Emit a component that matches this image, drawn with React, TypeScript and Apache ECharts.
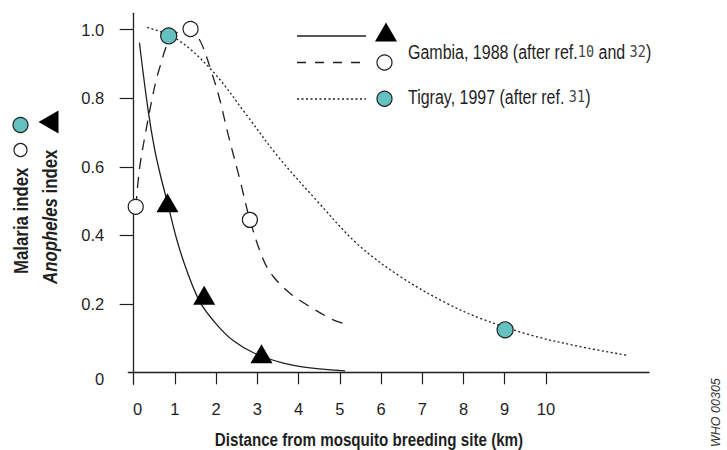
import React, { useEffect, useRef } from "react";
import * as echarts from "echarts";

// ---- Data ----
const xLabelValues = [0, 1, 2, 3, 4, 5, 6, 7, 8, 9, 10];
const xTickValues = [1, 2, 3, 4, 5, 6, 7, 8, 9, 10];
const yLabelValues = [0, 0.2, 0.4, 0.6, 0.8, 1.0];
const yTickValues = [0.2, 0.4, 0.6, 0.8, 1.0];
const yLabelTexts = ["0", "0.2", "0.4", "0.6", "0.8", "1.0"];

// Observed points
const anophelesPoints = [
  [0.82, 0.495],
  [1.71, 0.225],
  [3.1, 0.054],
];
const gambiaMalariaPoints = [
  [0.05, 0.483],
  [1.38, 1.002],
  [2.82, 0.445],
];
const tigrayMalariaPoints = [
  [0.85, 0.982],
  [9.01, 0.124],
];

// Fitted curves (traced)
const anophelesCurve = [
  [0.14, 0.962], [0.345, 0.77], [0.51, 0.65], [0.67, 0.565], [0.81, 0.5],
  [1.04, 0.39], [1.28, 0.3], [1.61, 0.205], [2.01, 0.14], [2.42, 0.092],
  [2.94, 0.055], [3.63, 0.027], [4.28, 0.013], [5.13, 0.004],
];
const gambiaCurve = [
  [0.053, 0.483], [0.143, 0.595], [0.3, 0.707], [0.425, 0.785], [0.546, 0.853],
  [0.667, 0.903], [0.81, 0.955], [1.07, 0.994], [1.38, 1.002], [1.55, 0.98],
  [1.68, 0.95], [1.88, 0.88], [2.08, 0.8], [2.3, 0.69], [2.58, 0.561],
  [2.82, 0.445], [3.14, 0.33], [3.39, 0.279], [3.79, 0.231], [4.28, 0.191],
  [4.84, 0.153], [5.08, 0.143],
];
const tigrayCurve = [
  [0.33, 1.007], [1.08, 0.97], [1.93, 0.877], [2.74, 0.751], [3.5, 0.63],
  [4.45, 0.5], [5.45, 0.372], [6.5, 0.277], [7.6, 0.201], [8.4, 0.158],
  [9.62, 0.109], [10.83, 0.075], [11.96, 0.05],
];

const xAxisTitle = "Distance from mosquito breeding site (km)";
const yTitleLine1 = "Malaria index";
const yTitleLine2Italic = "Anopheles";
const yTitleLine2Rest = " index";
const legendGambiaParts = ["Gambia, 1988 (after ref.", "10", " and ", "32", ")"];
const legendTigrayParts = ["Tigray, 1997 (after ref. ", "31", ")"];
const figureCode = "WHO 00305";

const FONT = "'Liberation Sans', Arial, sans-serif";
const MONO = "'DejaVu Sans Mono', monospace";
const INK = "#1f1f1f";
const TEAL = "#65c1bf";
const CONDENSE = 0.82;

export default function App() {
  const ref = useRef<HTMLDivElement>(null);

  useEffect(() => {
    if (!ref.current) return;
    const chart = echarts.init(ref.current, undefined, { renderer: "svg" });

    const lineBase = { type: "line", smooth: 0.35, symbol: "none", silent: true, z: 2 } as any;

    const option: any = {
      animation: false,
      backgroundColor: "#ffffff",
      textStyle: { fontFamily: FONT },
      grid: { left: 128.3, right: 78, top: 13.3, bottom: 65.7, containLabel: false },
      xAxis: {
        type: "value",
        min: -0.13,
        max: 12.5,
        axisLine: { show: true, lineStyle: { color: INK, width: 1.3 } },
        axisTick: { show: true, customValues: xTickValues, length: 12, inside: false, lineStyle: { color: INK, width: 1.2 } },
        axisLabel: {
          customValues: xLabelValues,
          margin: 16,
          fontSize: 16.5,
          color: INK,
          fontFamily: FONT,
          formatter: (v: number) => (Math.round(v) === 0 ? "{z|0}" : String(Math.round(v))),
          rich: { z: { fontSize: 16.5, fontFamily: FONT, color: INK, padding: [0, 0, 0, 8] } },
        },
        splitLine: { show: false },
      },
      yAxis: {
        type: "value",
        min: -0.035,
        max: 1.048,
        axisLine: { show: true, lineStyle: { color: INK, width: 1.3 } },
        axisTick: { show: true, customValues: yTickValues, length: 14, inside: false, lineStyle: { color: INK, width: 1.2 } },
        axisLabel: {
          customValues: yLabelValues,
          margin: 24,
          fontSize: 16.5,
          color: INK,
          fontFamily: FONT,
          formatter: (v: number) => {
            const i = yLabelValues.findIndex((y) => Math.abs(y - v) < 1e-6);
            if (i < 0) return "";
            return i === 0 ? `{z|${yLabelTexts[i]}}` : yLabelTexts[i];
          },
          rich: { z: { fontSize: 16.5, fontFamily: FONT, color: INK, padding: [14, 0, 0, 0] } },
        },
        splitLine: { show: false },
      },
      series: [
        { ...lineBase, data: anophelesCurve, lineStyle: { color: INK, width: 1.3, type: "solid" } },
        { ...lineBase, data: gambiaCurve, lineStyle: { color: INK, width: 1.3, type: [11, 8] } },
        { ...lineBase, data: tigrayCurve, lineStyle: { color: INK, width: 1.3, type: [2, 2.5] } },
        {
          type: "scatter", data: anophelesPoints, symbol: "triangle", symbolSize: [22, 19], z: 5,
          itemStyle: { color: "#000000", borderWidth: 0, opacity: 1 },
        },
        {
          type: "scatter", data: gambiaMalariaPoints, symbol: "circle", symbolSize: 15, z: 5,
          itemStyle: { color: "#ffffff", borderColor: INK, borderWidth: 1.2, opacity: 1 },
        },
        {
          type: "scatter", data: tigrayMalariaPoints, symbol: "circle", symbolSize: 16, z: 5,
          itemStyle: { color: TEAL, borderColor: INK, borderWidth: 1.2, opacity: 1 },
        },
      ],
      graphic: [
        // x axis title
        {
          type: "text", x: 369, y: 440, scaleX: CONDENSE,
          style: { text: xAxisTitle, fontFamily: FONT, fontWeight: "bold", fontSize: 18.5, fill: INK, align: "center", verticalAlign: "middle" },
        },
        // y axis title line 1
        {
          type: "text", x: 21, y: 274, rotation: Math.PI / 2, scaleX: CONDENSE,
          style: { text: yTitleLine1, fontFamily: FONT, fontWeight: "bold", fontSize: 20.5, fill: INK, align: "left", verticalAlign: "middle" },
        },
        { type: "circle", shape: { cx: 20.5, cy: 150, r: 6.5 }, style: { fill: "#ffffff", stroke: INK, lineWidth: 1.2 } },
        { type: "circle", shape: { cx: 20.5, cy: 125, r: 7.5 }, style: { fill: TEAL, stroke: INK, lineWidth: 1.2 } },
        // y axis title line 2
        {
          type: "text", x: 50, y: 284, rotation: Math.PI / 2, scaleX: CONDENSE,
          style: {
            text: `{i|${yTitleLine2Italic}}{b|${yTitleLine2Rest}}`,
            fontFamily: FONT, fontWeight: "bold", fontSize: 20.5, fill: INK, align: "left", verticalAlign: "middle",
            rich: {
              i: { fontFamily: FONT, fontWeight: "bold", fontStyle: "italic", fontSize: 20.5, fill: INK },
              b: { fontFamily: FONT, fontWeight: "bold", fontSize: 20.5, fill: INK },
            },
          },
        },
        { type: "polygon", shape: { points: [[58.5, 110.5], [58.5, 133.5], [38.5, 122]] }, style: { fill: "#000000" } },
        // legend
        { type: "line", shape: { x1: 297, y1: 36, x2: 366, y2: 36 }, style: { stroke: INK, lineWidth: 1.3 } },
        { type: "polygon", shape: { points: [[386, 22.5], [397, 41.5], [375, 41.5]] }, style: { fill: "#000000" } },
        { type: "line", shape: { x1: 297, y1: 62.5, x2: 366, y2: 62.5 }, style: { stroke: INK, lineWidth: 1.3, lineDash: [9, 9] } },
        { type: "circle", shape: { cx: 384.5, cy: 62.5, r: 7.5 }, style: { fill: "#ffffff", stroke: INK, lineWidth: 1.2 } },
        { type: "line", shape: { x1: 297, y1: 99, x2: 366, y2: 99 }, style: { stroke: INK, lineWidth: 1.3, lineDash: [2, 2.5] } },
        { type: "circle", shape: { cx: 384.5, cy: 98.7, r: 7.5 }, style: { fill: TEAL, stroke: INK, lineWidth: 1.2 } },
        {
          type: "text", x: 408, y: 52, scaleX: CONDENSE,
          style: {
            text: `{n|${legendGambiaParts[0]}}{m|${legendGambiaParts[1]}}{n|${legendGambiaParts[2]}}{m|${legendGambiaParts[3]}}{n|${legendGambiaParts[4]}}`,
            align: "left", verticalAlign: "middle",
            rich: {
              n: { fontFamily: FONT, fontSize: 19.5, fill: INK },
              m: { fontFamily: MONO, fontSize: 16.5, fill: "#444444" },
            },
          },
        },
        {
          type: "text", x: 408, y: 97, scaleX: CONDENSE,
          style: {
            text: `{n|${legendTigrayParts[0]}}{m|${legendTigrayParts[1]}}{n|${legendTigrayParts[2]}}`,
            align: "left", verticalAlign: "middle",
            rich: {
              n: { fontFamily: FONT, fontSize: 19.5, fill: INK },
              m: { fontFamily: MONO, fontSize: 16.5, fill: "#444444" },
            },
          },
        },
        // figure code
        {
          type: "text", x: 716, y: 447, rotation: Math.PI / 2,
          style: { text: figureCode, fontFamily: FONT, fontStyle: "italic", fontSize: 12.5, fill: "#333333", align: "left", verticalAlign: "middle" },
        },
      ],
    };

    chart.setOption(option);
    return () => chart.dispose();
  }, []);

  return (
    <div
      ref={ref}
      style={{ position: "fixed", left: 0, top: 0, width: 727, height: 450, background: "#fff" }}
    />
  );
}
